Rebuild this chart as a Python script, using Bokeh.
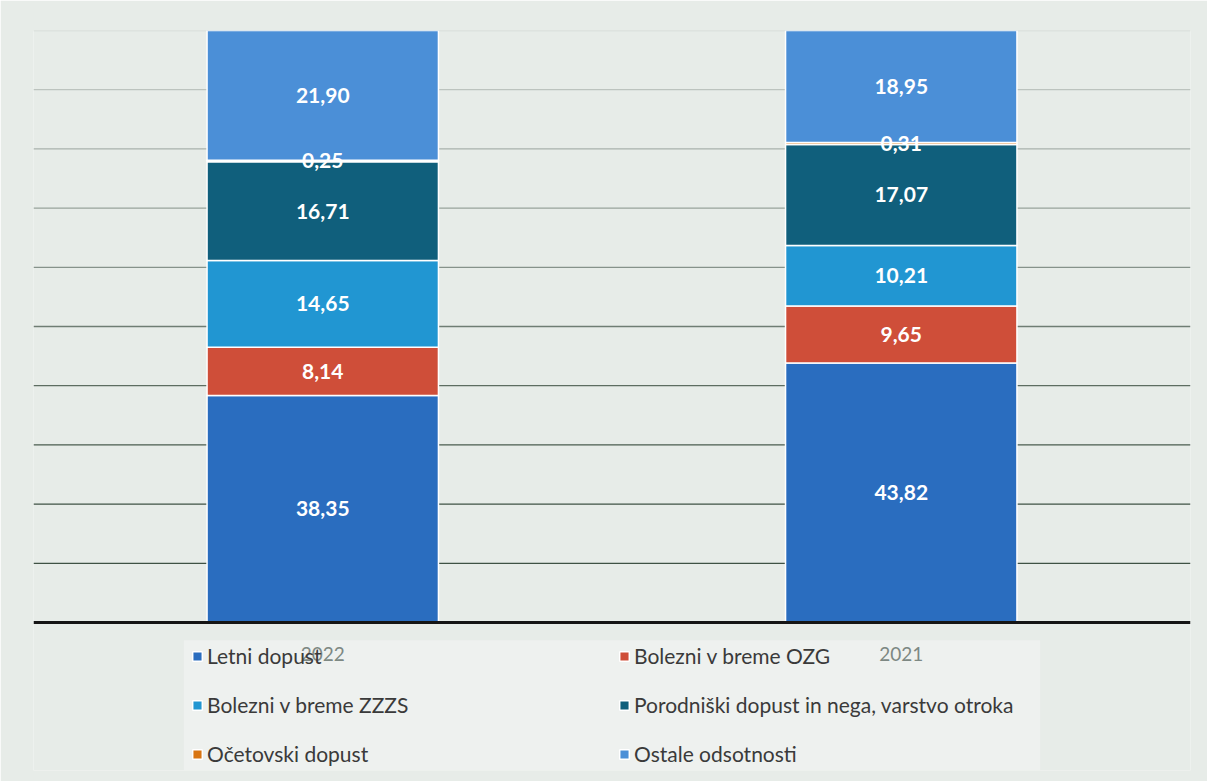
import numpy as np
from bokeh.plotting import figure
from bokeh.models import ColumnDataSource, FactorRange, Range1d, Span, Legend, LegendItem, BoxAnnotation
from bokeh.core.properties import value
from bokeh.embed import file_html
from bokeh.resources import INLINE

# ---- data ----
years = ["2022", "2021"]
series = ["Letni dopust", "Bolezni v breme OZG", "Bolezni v breme ZZZS",
          "Porodniški dopust in nega, varstvo otroka", "Očetovski dopust", "Ostale odsotnosti"]
letni = [38.35, 43.82]
ozg = [8.14, 9.65]
zzzs = [14.65, 10.21]
porod = [16.71, 17.07]
oceto = [0.25, 0.31]
ostale = [21.90, 18.95]
grid_values = [10, 20, 30, 40, 50, 60, 70, 80, 90, 100]

keys = ["letni", "ozg", "zzzs", "porod", "oceto", "ostale"]
colors = ["#2a6dbf", "#cf4e39", "#2196d2", "#105f7c", "#d97512", "#4b8fd7"]
data = dict(year=years, letni=letni, ozg=ozg, zzzs=zzzs, porod=porod, oceto=oceto, ostale=ostale)
src = ColumnDataSource(data)

bg = "#e7ece8"
p = figure(x_range=FactorRange(factors=years, range_padding=0),
           y_range=Range1d(-25.0, 100),
           width=1207, height=781, output_backend="svg", toolbar_location=None,
           x_axis_type=None, y_axis_type=None,
           min_border_left=33, min_border_right=17, min_border_top=30, min_border_bottom=11,
           background_fill_color=bg, border_fill_color=bg, outline_line_color=None)

# legend backdrop
p.add_layout(BoxAnnotation(left=0.26, right=1.74, top=-3.0, bottom=-25.0,
                           fill_color="#eef1ef", fill_alpha=1, line_color=None, level="underlay"))

# gridlines (fading toward top)
grid_colors = ["#3f5244", "#3f5244", "#4a5c4f", "#5d6d61", "#6f7d73",
               "#86928a", "#98a39b", "#a9b2ac", "#bcc3be", "#cfd5d1"]
for v, c in zip(grid_values, grid_colors):
    p.add_layout(Span(location=v, dimension="width", line_color=c, line_width=1.3, level="underlay"))

rends = p.vbar_stack(keys, x="year", width=0.4, fill_color=colors, line_color="white",
                     line_width=1.5, source=src)

# baseline
p.add_layout(Span(location=0, dimension="width", line_color="#151515", line_width=3))

# value labels
arr = np.array([data[k] for k in keys])
cum = np.cumsum(arr, axis=0)
mids = cum - arr / 2
lx, ly, lt = [], [], []
for i in range(len(keys)):
    for j, yr in enumerate(years):
        lx.append(yr)
        ly.append(mids[i, j])
        lt.append(f"{arr[i, j]:.2f}".replace(".", ","))
p.text(x=lx, y=ly, text=lt, text_color="white", text_font=value("Lato"),
       text_font_style="bold", text_font_size="21px", text_align="center",
       text_baseline="middle")

# category labels
p.text(x=years, y=[-5.4, -5.4], text=years, text_color="#7d8883", text_font=value("Lato"),
       text_font_size="19px", text_align="center", text_baseline="middle")

# legends (two columns)
common = dict(orientation="vertical", padding=0, margin=0, spacing=24, label_height=22,
              glyph_width=12, glyph_height=12, label_standoff=4,
              label_text_font="Lato", label_text_font_size="21px", label_text_color="#3a3a3a",
              background_fill_alpha=0, border_line_alpha=0)
leg1 = Legend(items=[LegendItem(label=series[i], renderers=[rends[i]]) for i in (0, 2, 4)],
              location=(158, 4), **common)
leg2 = Legend(items=[LegendItem(label=series[i], renderers=[rends[i]]) for i in (1, 3, 5)],
              location=(585, 4), **common)
p.add_layout(leg1)
p.add_layout(leg2)

open("out.html", "w").write(file_html(p, INLINE))
